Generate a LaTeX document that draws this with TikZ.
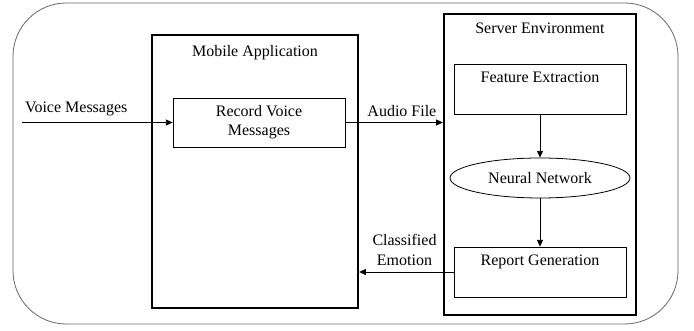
\documentclass[tikz,border=0pt]{standalone}
\usepackage{fontspec}
\setmainfont{Liberation Serif}
\usetikzlibrary{arrows.meta,shapes.geometric}
\begin{document}
\begin{tikzpicture}[x=0.75pt,y=-0.75pt,
	font=\fontsize{12}{14.5}\selectfont,
	outer/.style={draw=black!60,line width=0.6pt},
	frame/.style={draw,line width=1.8pt,minimum width=#1},
	blk/.style={draw,line width=0.6pt,minimum width=129pt,minimum height=37.5pt},
	arr/.style={-{Triangle[length=5pt,width=4.5pt]},line width=0.6pt}]
	\useasboundingbox (0,0) rectangle (694,331);
	\draw[outer,rounded corners=40pt] (13,3) rectangle (678,324);

	\draw (255,171.5) node (mob)[frame=154.5pt,minimum height=204.75pt,
		label={[anchor=north,yshift=-5pt]north:Mobile Application}]{};
	\draw (540,164.5) node (srv)[frame=144pt,minimum height=225.75pt,
		label={[anchor=north,yshift=-4pt]north:Server Environment}]{};

	\draw (259,122.5) node (rec)[blk,minimum height=36.75pt,align=center]{Record Voice\\Messages};
	\draw (540,89) node (fe)[blk,label={[anchor=north,yshift=-3pt]north:Feature Extraction}]{};
	\draw (540,178) node (nn)[draw,ellipse,line width=0.6pt,minimum width=135pt,minimum height=30pt]{Neural Network};
	\draw (540,272) node (rg)[blk,label={[anchor=north,yshift=-3pt]north:Report Generation}]{};

	\coordinate (vin) at (22,122.5);
	\draw[arr] (vin) -- node[above,pos=0.36,yshift=1pt]{Voice Messages} (rec.west);
	\draw[arr] (rec.east) -- node[above,pos=0.58,yshift=1pt]{Audio File} (srv.west |- rec.east);
	\draw[arr] (fe) -- (nn);
	\draw[arr] (nn) -- (rg);
	\draw[arr] (rg.west) -- node[above,align=center,pos=0.52,yshift=1pt,font=\fontsize{12}{15}\selectfont]{Classified\\Emotion} (mob.east |- rg.west);
\end{tikzpicture}
\end{document}
